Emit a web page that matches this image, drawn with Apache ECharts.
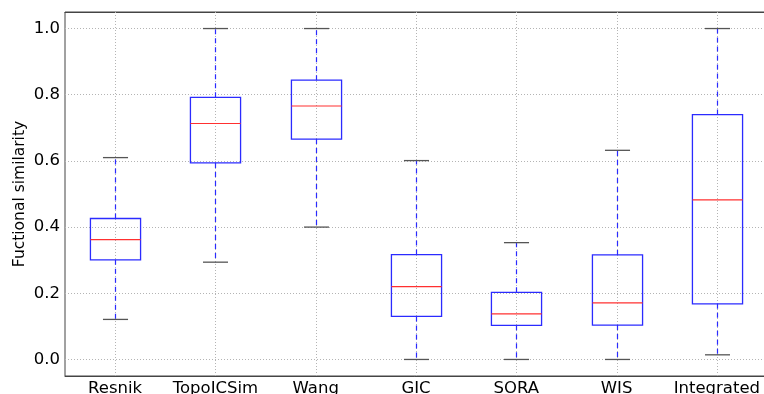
<!DOCTYPE html>
<html>
<head>
<meta charset="utf-8">
<script src="https://cdn.jsdelivr.net/npm/echarts@6/dist/echarts.min.js"></script>
<style>
  html, body { margin: 0; padding: 0; background: #fff; }
  #chart { width: 764px; height: 394px; }
</style>
</head>
<body>
<div id="chart"></div>
<script>
// methods on the x axis
var methods = ["Resnik", "TopoICSim", "Wang", "GIC", "SORA", "WIS", "Integrated"];
// box statistics per method
var lowWhisker  = [0.121, 0.294, 0.400, 0.000, 0.000, 0.000, 0.014];
var q1          = [0.301, 0.594, 0.666, 0.130, 0.103, 0.104, 0.168];
var median      = [0.362, 0.713, 0.766, 0.220, 0.138, 0.171, 0.482];
var q3          = [0.426, 0.792, 0.844, 0.317, 0.203, 0.316, 0.740];
var highWhisker = [0.610, 1.000, 1.000, 0.601, 0.353, 0.632, 1.000];

var font = "DejaVu Sans";

var boxData = methods.map(function (m, i) {
    return [i, lowWhisker[i], q1[i], median[i], q3[i], highWhisker[i]];
});

function renderBox(params, api) {
    var x = api.value(0);
    var band = api.size([1, 0])[0];
    var cs = params.coordSys;
    var pLow = api.coord([x, api.value(1)]);
    var pQ1 = api.coord([x, api.value(2)]);
    var pMed = api.coord([x, api.value(3)]);
    var pQ3 = api.coord([x, api.value(4)]);
    var pHigh = api.coord([x, api.value(5)]);
    var cx = Math.round(pMed[0]) + 0.5;
    var bw = band * 0.5, cw = band * 0.25;
    var dash = {stroke: "#2b2bff", lineWidth: 1.2, lineDash: [5, 4]};
    return {
        type: "group",
        children: [
            {type: "line", shape: {x1: cx, y1: cs.y, x2: cx, y2: cs.y + cs.height},
                style: {stroke: "#b4b4b4", lineWidth: 1, lineDash: [1, 2]}},
            {type: "line", shape: {x1: cx, y1: pQ3[1], x2: cx, y2: pHigh[1]}, style: dash},
            {type: "line", shape: {x1: cx, y1: pQ1[1], x2: cx, y2: pLow[1]}, style: dash},
            {type: "line", shape: {x1: cx - cw / 2, y1: pHigh[1], x2: cx + cw / 2, y2: pHigh[1]},
                style: {stroke: "#555", lineWidth: 1.3}},
            {type: "line", shape: {x1: cx - cw / 2, y1: pLow[1], x2: cx + cw / 2, y2: pLow[1]},
                style: {stroke: "#555", lineWidth: 1.3}},
            {type: "rect", shape: {x: cx - bw / 2, y: pQ3[1], width: bw, height: pQ1[1] - pQ3[1]},
                style: {fill: null, stroke: "#2b2bff", lineWidth: 1.3}},
            {type: "line", shape: {x1: cx - bw / 2, y1: pMed[1], x2: cx + bw / 2, y2: pMed[1]},
                style: {stroke: "#ff3030", lineWidth: 1.2}}
        ]
    };
}

var chart = echarts.init(document.getElementById("chart"));
chart.setOption({
    animation: false,
    grid: {left: 65, top: 12, width: 702, height: 364, outerBoundsMode: "none",
        show: true, borderColor: "#444", borderWidth: 1},
    xAxis: [{
        type: "category",
        data: methods,
        axisLine: {onZero: false, lineStyle: {color: "#444"}},
        axisTick: {interval: 0, alignWithLabel: true, inside: true, length: 4, lineStyle: {color: "#444"}},
        axisLabel: {interval: 0, color: "#000", fontFamily: font, fontSize: 16.5, margin: 4},
        splitLine: {show: false}
    }, {
        type: "category",
        position: "top",
        data: methods,
        axisLine: {onZero: false, lineStyle: {color: "#444"}},
        axisTick: {interval: 0, alignWithLabel: true, inside: true, length: 4, lineStyle: {color: "#444"}},
        axisLabel: {show: false}
    }],
    yAxis: {
        type: "value",
        min: -0.05,
        max: 1.05,
        name: "Fuctional similarity",
        nameLocation: "middle",
        nameMoveOverlap: false,
        nameGap: 37,
        nameTextStyle: {color: "#000", fontFamily: font, fontSize: 15.5},
        axisLine: {lineStyle: {color: "#444"}},
        axisTick: {inside: true, length: 4, lineStyle: {color: "#444"}},
        axisLabel: {
            color: "#000", fontFamily: font, fontSize: 16.5, margin: 5,
            showMinLabel: false, showMaxLabel: false,
            formatter: function (v) { return v.toFixed(1); }
        },
        splitLine: {show: true, lineStyle: {color: "#b4b4b4", type: [1, 2]}}
    },
    series: [{
        type: "custom",
        renderItem: renderBox,
        data: boxData,
        encode: {x: 0, y: [1, 2, 3, 4, 5]}
    }]
});
</script>
</body>
</html>
